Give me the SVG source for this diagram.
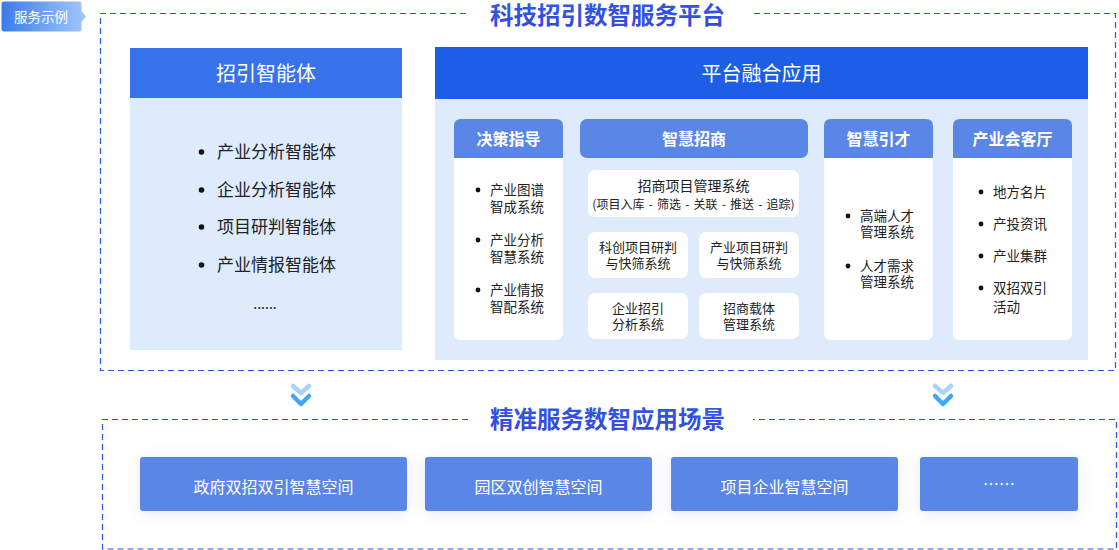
<svg xmlns="http://www.w3.org/2000/svg" width="1119" height="550" viewBox="0 0 1119 550">
<defs>
<linearGradient id="badgeGrad" x1="0" y1="0" x2="1" y2="0">
<stop offset="0" stop-color="#3a7ce8"/>
<stop offset="1" stop-color="#a2c8fb"/>
</linearGradient>
<linearGradient id="titleGrad" x1="0" y1="0" x2="0" y2="1">
<stop offset="0" stop-color="#2c5ce6"/>
<stop offset="1" stop-color="#3a45d9"/>
</linearGradient>
<filter id="shadow" x="-20%" y="-40%" width="140%" height="180%">
<feDropShadow dx="0" dy="2" stdDeviation="7" flood-color="#5a78d8" flood-opacity="0.16"/>
</filter>
<style>
text{font-family:"Noto Sans CJK SC","Noto Sans",sans-serif;}
.dash{fill:none;stroke:#2356d8;stroke-width:1.2;stroke-dasharray:6 4;}
.title{font-size:23.5px;font-weight:700;fill:url(#titleGrad);text-anchor:middle;}
.hdr{font-size:20px;fill:#ffffff;text-anchor:middle;}
.body{fill:#ddebfd;}
.sub{fill:#5a87e5;}
.subt{font-size:16px;font-weight:700;fill:#ffffff;text-anchor:middle;}
.card{fill:#ffffff;}
.li{font-size:17px;fill:#222;}
.sl{font-size:13.5px;fill:#222;}
.ct{font-size:13px;fill:#222;text-anchor:middle;}
.dot{fill:#111;}
.bc{fill:#5a87e5;filter:url(#shadow);}
.bt{font-size:16px;fill:#ffffff;text-anchor:middle;}
.chev1{fill:none;stroke:#a8d3fd;stroke-width:4.5;stroke-linecap:round;stroke-linejoin:round;}
.chev2{fill:none;stroke:#3fa7f8;stroke-width:4.5;stroke-linecap:round;stroke-linejoin:round;}
</style>
</defs>

<!-- badge -->
<g id="badge">
<path d="M4 1.5 H79 Q81.5 1.5 81.5 4 V11 L86 16.5 L81.5 22 V29 Q81.5 31.5 79 31.5 H4 Q1.5 31.5 1.5 29 V4 Q1.5 1.5 4 1.5 Z" fill="url(#badgeGrad)"/>
<text x="41" y="21.5" font-size="13.5" fill="#ffffff" text-anchor="middle">服务示例</text>
</g>

<!-- top platform frame -->
<g id="platform-frame">
<path class="dash" d="M466 13.5 H100.5 V370.5 H1115.5 V13.5 H752"/>
<text class="title" x="607.5" y="24">科技招引数智服务平台</text>
</g>

<!-- left panel -->
<g id="agent-panel">
<rect class="body" x="130" y="98" width="272" height="252"/>
<rect x="130" y="48" width="272" height="50" fill="#3872ea"/>
<text class="hdr" x="266" y="81">招引智能体</text>
<circle class="dot" cx="201.5" cy="152" r="2.8"/>
<text class="li" x="217" y="158">产业分析智能体</text>
<circle class="dot" cx="201.5" cy="190" r="2.8"/>
<text class="li" x="217" y="196">企业分析智能体</text>
<circle class="dot" cx="201.5" cy="227" r="2.8"/>
<text class="li" x="217" y="233">项目研判智能体</text>
<circle class="dot" cx="201.5" cy="265" r="2.8"/>
<text class="li" x="217" y="271">产业情报智能体</text>
<text x="265" y="309" font-size="14" fill="#222" text-anchor="middle">......</text>
</g>

<!-- right panel -->
<g id="app-panel">
<rect class="body" x="435" y="99" width="653" height="261"/>
<rect x="435" y="47" width="653" height="52" fill="#1d5ee6"/>
<text class="hdr" x="761.5" y="81">平台融合应用</text>
</g>

<!-- 决策指导 -->
<g id="decision">
<path class="sub" d="M454 158 V126 Q454 119 461 119 H556 Q563 119 563 126 V158 Z"/>
<text class="subt" x="508.5" y="145">决策指导</text>
<path class="card" d="M454 158 H563 V333 Q563 340 556 340 H461 Q454 340 454 333 Z"/>
<circle class="dot" cx="478" cy="190" r="2.4"/>
<text class="sl" x="490" y="195">产业图谱<tspan x="490" dy="17">智成系统</tspan></text>
<circle class="dot" cx="478" cy="240" r="2.4"/>
<text class="sl" x="490" y="245">产业分析<tspan x="490" dy="17">智慧系统</tspan></text>
<circle class="dot" cx="478" cy="290" r="2.4"/>
<text class="sl" x="490" y="295">产业情报<tspan x="490" dy="17">智配系统</tspan></text>
</g>

<!-- 智慧招商 -->
<g id="investment">
<rect class="sub" x="580" y="119" width="228" height="39" rx="7"/>
<text class="subt" x="694" y="145">智慧招商</text>
<rect class="card" x="588" y="170" width="211" height="47" rx="7"/>
<text x="693.5" y="190.5" font-size="14" fill="#222" text-anchor="middle">招商项目管理系统<tspan x="693.5" dy="18.5" font-size="12" word-spacing="1.5">(项目入库 - 筛选 - 关联 - 推送 - 追踪)</tspan></text>
<rect class="card" x="588" y="232" width="100" height="46" rx="7"/>
<text class="ct" x="638" y="251.5">科创项目研判<tspan x="638" dy="16.5">与快筛系统</tspan></text>
<rect class="card" x="699" y="232" width="100" height="46" rx="7"/>
<text class="ct" x="749" y="251.5">产业项目研判<tspan x="749" dy="16.5">与快筛系统</tspan></text>
<rect class="card" x="588" y="293" width="100" height="46" rx="7"/>
<text class="ct" x="638" y="312.5">企业招引<tspan x="638" dy="16.5">分析系统</tspan></text>
<rect class="card" x="699" y="293" width="100" height="46" rx="7"/>
<text class="ct" x="749" y="312.5">招商载体<tspan x="749" dy="16.5">管理系统</tspan></text>
</g>

<!-- 智慧引才 -->
<g id="talent">
<path class="sub" d="M824 158 V126 Q824 119 831 119 H926 Q933 119 933 126 V158 Z"/>
<text class="subt" x="878.5" y="145">智慧引才</text>
<path class="card" d="M824 158 H933 V333 Q933 340 926 340 H831 Q824 340 824 333 Z"/>
<circle class="dot" cx="848" cy="216" r="2.4"/>
<text class="sl" x="860" y="221">高端人才<tspan x="860" dy="16">管理系统</tspan></text>
<circle class="dot" cx="848" cy="266" r="2.4"/>
<text class="sl" x="860" y="271">人才需求<tspan x="860" dy="16">管理系统</tspan></text>
</g>

<!-- 产业会客厅 -->
<g id="lounge">
<path class="sub" d="M953 158 V126 Q953 119 960 119 H1065 Q1072 119 1072 126 V158 Z"/>
<text class="subt" x="1012.5" y="145">产业会客厅</text>
<path class="card" d="M953 158 H1072 V333 Q1072 340 1065 340 H960 Q953 340 953 333 Z"/>
<circle class="dot" cx="981" cy="192" r="2.4"/>
<text class="sl" x="993" y="197">地方名片</text>
<circle class="dot" cx="981" cy="224" r="2.4"/>
<text class="sl" x="993" y="229">产投资讯</text>
<circle class="dot" cx="981" cy="256" r="2.4"/>
<text class="sl" x="993" y="261">产业集群</text>
<circle class="dot" cx="981" cy="288" r="2.4"/>
<text class="sl" x="993" y="293">双招双引<tspan x="993" dy="19">活动</tspan></text>
</g>

<!-- connectors -->
<g id="connectors">
<polyline class="chev1" points="293,386 301,393 309,386"/>
<polyline class="chev2" points="293,396 301,404 309,396"/>
<polyline class="chev1" points="935,386 943,393 951,386"/>
<polyline class="chev2" points="935,396 943,404 951,396"/>
</g>

<!-- bottom scene frame -->
<g id="scene-frame">
<path class="dash" d="M468 419.5 H102.5 V549 H1116.5 V419.5 H753"/>
<text class="title" x="607.5" y="428">精准服务数智应用场景</text>
</g>

<g id="scene-gov">
<rect class="bc" x="140" y="457" width="267" height="54" rx="3"/>
<text class="bt" x="273.5" y="492.5">政府双招双引智慧空间</text>
</g>
<g id="scene-park">
<rect class="bc" x="425" y="457" width="227" height="54" rx="3"/>
<text class="bt" x="538.5" y="492.5">园区双创智慧空间</text>
</g>
<g id="scene-enterprise">
<rect class="bc" x="671" y="457" width="227" height="54" rx="3"/>
<text class="bt" x="784.5" y="492.5">项目企业智慧空间</text>
</g>
<g id="scene-more">
<rect class="bc" x="920" y="457" width="158" height="54" rx="3"/>
<text class="bt" x="999" y="490">……</text>
</g>
</svg>
